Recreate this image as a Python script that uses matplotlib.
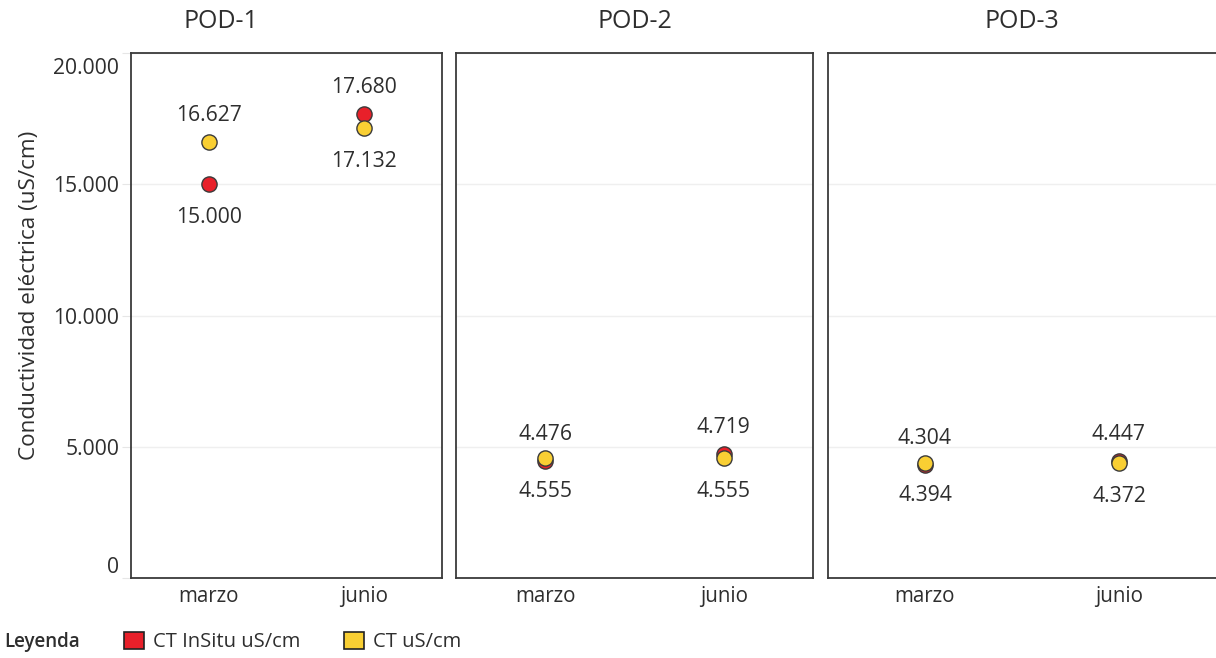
import matplotlib.pyplot as plt
from matplotlib.patches import Patch
from matplotlib.transforms import offset_copy

plt.rcParams['font.family'] = ['Open Sans', 'DejaVu Sans']

# conductividad por pozo y campaña
pods = ['POD-1', 'POD-2', 'POD-3']
meses = ['marzo', 'junio']
ct_insitu = [[15000, 17680], [4476, 4719], [4304, 4447]]
ct_lab = [[16627, 17132], [4555, 4555], [4394, 4372]]
y_ticks = [0, 5000, 10000, 15000, 20000]

ROJO = '#e8202a'
AMARILLO = '#f9cf33'
BORDE = '#3a3a3a'
TEXTO = '#2e2e2e'


def miles(v):
    return f'{v:,.0f}'.replace(',', '.')


W, H = 1216, 658
fig = plt.figure(figsize=(W / 100, H / 100), dpi=100)

# bordes de cada panel en pixeles
paneles = [(131, 442), (456, 813), (828, 1216)]
top, bottom = 53, 578

for k, (x0, x1) in enumerate(paneles):
    ax = fig.add_axes([x0 / W, 1 - bottom / H, (x1 - x0) / W, (bottom - top) / H])
    ax.set_xlim(-0.5, 1.5)
    ax.set_ylim(0, 20000)
    ax.set_yticks(y_ticks, labels=[miles(t) for t in y_ticks])
    ax.set_xticks(range(len(meses)), labels=meses)
    ax.grid(axis='y', color='#efefef', linewidth=1)
    ax.set_axisbelow(True)
    ax.tick_params(axis='x', length=0, pad=6, labelsize=14.8, labelcolor=TEXTO)
    if k == 0:
        ax.tick_params(axis='y', length=6.5, color='#e6e6e6', pad=2,
                       labelsize=15.2, labelcolor=TEXTO)
        ticks = ax.yaxis.get_major_ticks()
        ticks[0].label1.set_va('bottom')
        ticks[-1].label1.set_va('top')
        lbl = ticks[-1].label1
        lbl.set_transform(offset_copy(lbl.get_transform(), fig=fig, y=-5, units='dots'))
    else:
        ax.tick_params(axis='y', left=False, labelleft=False)
    for s in ax.spines.values():
        s.set_color(BORDE)
        s.set_linewidth(1.3)
    if k == len(paneles) - 1:
        ax.spines['right'].set_visible(False)

    rojo = ct_insitu[k]
    amarillo = ct_lab[k]
    ax.scatter(range(len(meses)), rojo, s=120, color=ROJO, edgecolor=BORDE,
               linewidth=1, zorder=3)
    ax.scatter(range(len(meses)), amarillo, s=120, color=AMARILLO, edgecolor=BORDE,
               linewidth=1, zorder=4)

    for i in range(len(meses)):
        r, a = rojo[i], amarillo[i]
        if abs(r - a) > 1000 and a > r:
            arriba, abajo = a, r
        else:
            arriba, abajo = r, a
        ax.annotate(miles(arriba), (i, arriba), xytext=(0, 19), textcoords='offset points',
                    ha='center', va='center', fontsize=15.2, color=TEXTO)
        ax.annotate(miles(abajo), (i, abajo), xytext=(0, -24), textcoords='offset points',
                    ha='center', va='center', fontsize=15.2, color=TEXTO)

    xc = (0 + x1) / 2 if k == 0 else (x0 + x1) / 2
    fig.text(xc / W, 1 - 22 / H, pods[k], ha='center', va='center',
             fontsize=18, color=TEXTO)

fig.text(30 / W, 1 - 295 / H, 'Conductividad eléctrica (uS/cm)', rotation=90,
         ha='center', va='center', fontsize=16.2, color=TEXTO)

fig.text(4 / W, 1 - 642 / H, 'Leyenda', ha='left', va='center', fontsize=13.5,
         fontweight='semibold', color=TEXTO)
fig.legend(handles=[Patch(facecolor=ROJO, edgecolor='#222222', linewidth=1.2),
                    Patch(facecolor=AMARILLO, edgecolor='#222222', linewidth=1.2)],
           labels=['CT InSitu uS/cm', 'CT uS/cm'], loc='center left',
           bbox_to_anchor=(106 / W, 1 - 642 / H), ncol=2, frameon=False,
           fontsize=14.5, handlelength=0.97, handleheight=0.97, handletextpad=0.45,
           columnspacing=2.2, labelcolor=TEXTO)

fig.savefig('out.png', dpi=100)
